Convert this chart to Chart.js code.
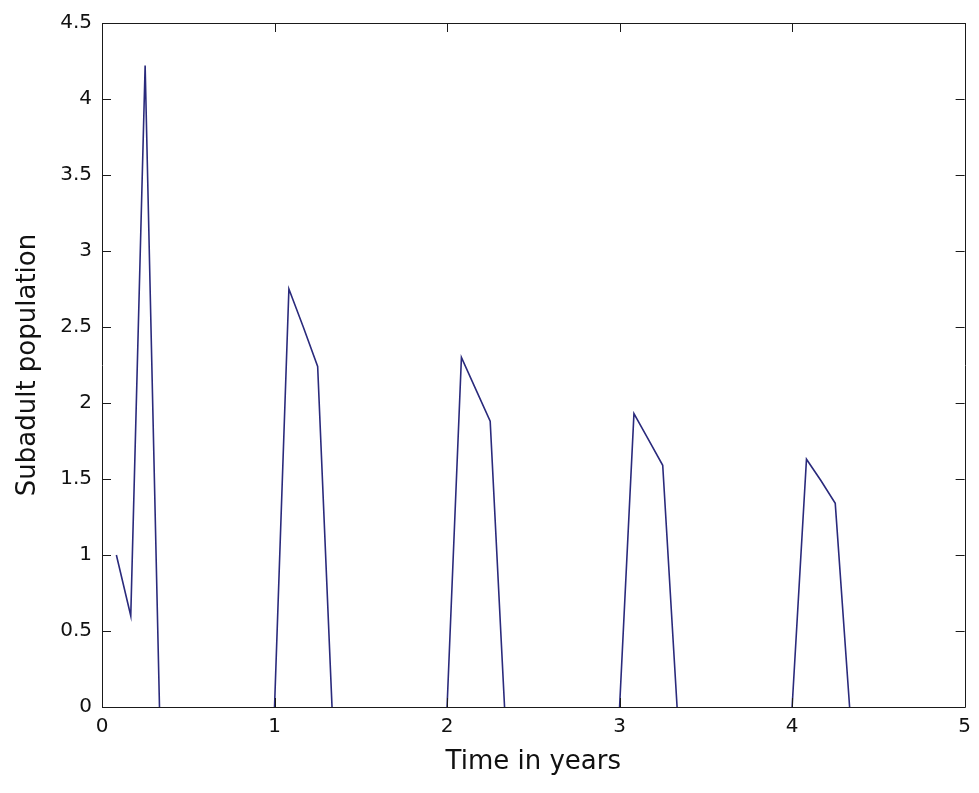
<!DOCTYPE html>
<html lang="en">
<head>
    <meta charset="UTF-8">
    <title>Subadult population</title>
    <script src="https://cdn.jsdelivr.net/npm/chart.js"></script>
    <style>
        html, body { margin: 0; padding: 0; background: #fff; }
        #wrap { width: 979px; height: 793px; }
    </style>
</head>
<body>
<div id="wrap"><canvas id="myChart" width="979" height="793"></canvas></div>
<script>
    // time (years) and subadult population
    const times = [0.0833, 0.1667, 0.25, 0.3333,
                   1.0, 1.0833, 1.1667, 1.25, 1.3333,
                   2.0, 2.0833, 2.1667, 2.25, 2.3333,
                   3.0, 3.0833, 3.1667, 3.25, 3.3333,
                   4.0, 4.0833, 4.1667, 4.25, 4.3333,
                   5.0];
    const population = [1.0, 0.6, 4.22, 0,
                        0, 2.75, 2.5, 2.24, 0,
                        0, 2.3, 2.09, 1.88, 0,
                        0, 1.93, 1.76, 1.59, 0,
                        0, 1.63, 1.49, 1.34, 0,
                        0];
    const xTicks = [0, 1, 2, 3, 4, 5];
    const yTicks = [0, 0.5, 1, 1.5, 2, 2.5, 3, 3.5, 4, 4.5];

    const points = times.map((t, i) => ({ x: t, y: population[i] }));

    // matlab style box with inward ticks
    const boxPlugin = {
        id: 'box',
        afterDraw(chart) {
            const c = chart.ctx, a = chart.chartArea;
            const xs = chart.scales.x, ys = chart.scales.y;
            const len = 9;
            c.save();
            c.strokeStyle = '#1a1a1a';
            c.lineWidth = 1;
            c.beginPath();
            c.rect(Math.round(a.left) + 0.5, Math.round(a.top) + 0.5,
                   Math.round(a.right - a.left), Math.round(a.bottom - a.top));
            xTicks.forEach(v => {
                const px = Math.round(xs.getPixelForValue(v)) + 0.5;
                c.moveTo(px, a.bottom); c.lineTo(px, a.bottom - len);
                c.moveTo(px, a.top); c.lineTo(px, a.top + len);
            });
            yTicks.forEach(v => {
                const py = Math.round(ys.getPixelForValue(v)) + 0.5;
                c.moveTo(a.left, py); c.lineTo(a.left + len, py);
                c.moveTo(a.right, py); c.lineTo(a.right - len, py);
            });
            c.stroke();
            c.restore();
        }
    };

    const tickFont = { family: 'DejaVu Sans', size: 20 };
    const titleFont = { family: 'DejaVu Sans', size: 26 };

    new Chart(document.getElementById('myChart'), {
        type: 'line',
        data: {
            datasets: [{
                data: points,
                borderColor: '#2a2a7c',
                borderWidth: 1.6,
                pointRadius: 0,
                tension: 0,
                fill: false,
                // the zero stretches sit under the x axis
                segment: {
                    borderColor: ctx => (ctx.p0.parsed.y === 0 && ctx.p1.parsed.y === 0) ? 'rgba(0,0,0,0)' : undefined
                }
            }]
        },
        options: {
            responsive: false,
            animation: false,
            layout: { padding: { top: 23, right: 10, left: 0, bottom: 0 } },
            plugins: { legend: { display: false }, tooltip: { enabled: false } },
            scales: {
                x: {
                    type: 'linear',
                    min: 0, max: 5,
                    afterBuildTicks(s) { s.ticks = xTicks.map(v => ({ value: v })); },
                    afterFit(s) { s.height = 86; },
                    grid: { display: false, drawTicks: false },
                    border: { display: false },
                    ticks: { color: '#111', font: tickFont, padding: 8, maxRotation: 0,
                             callback: v => String(v) },
                    title: {
                        display: true, text: 'Time in years', color: '#111',
                        font: titleFont, padding: { top: 0, bottom: 15 }
                    }
                },
                y: {
                    type: 'linear',
                    min: 0, max: 4.5,
                    afterBuildTicks(s) { s.ticks = yTicks.map(v => ({ value: v })); },
                    afterFit(s) { s.width = 102; },
                    grid: { display: false, drawTicks: false },
                    border: { display: false },
                    ticks: { color: '#111', font: tickFont, padding: 10,
                             callback: v => String(v) },
                    title: {
                        display: true, text: 'Subadult population', color: '#111',
                        font: titleFont, padding: { top: 13, bottom: 0 }
                    }
                }
            }
        },
        plugins: [boxPlugin]
    });
</script>
</body>
</html>
